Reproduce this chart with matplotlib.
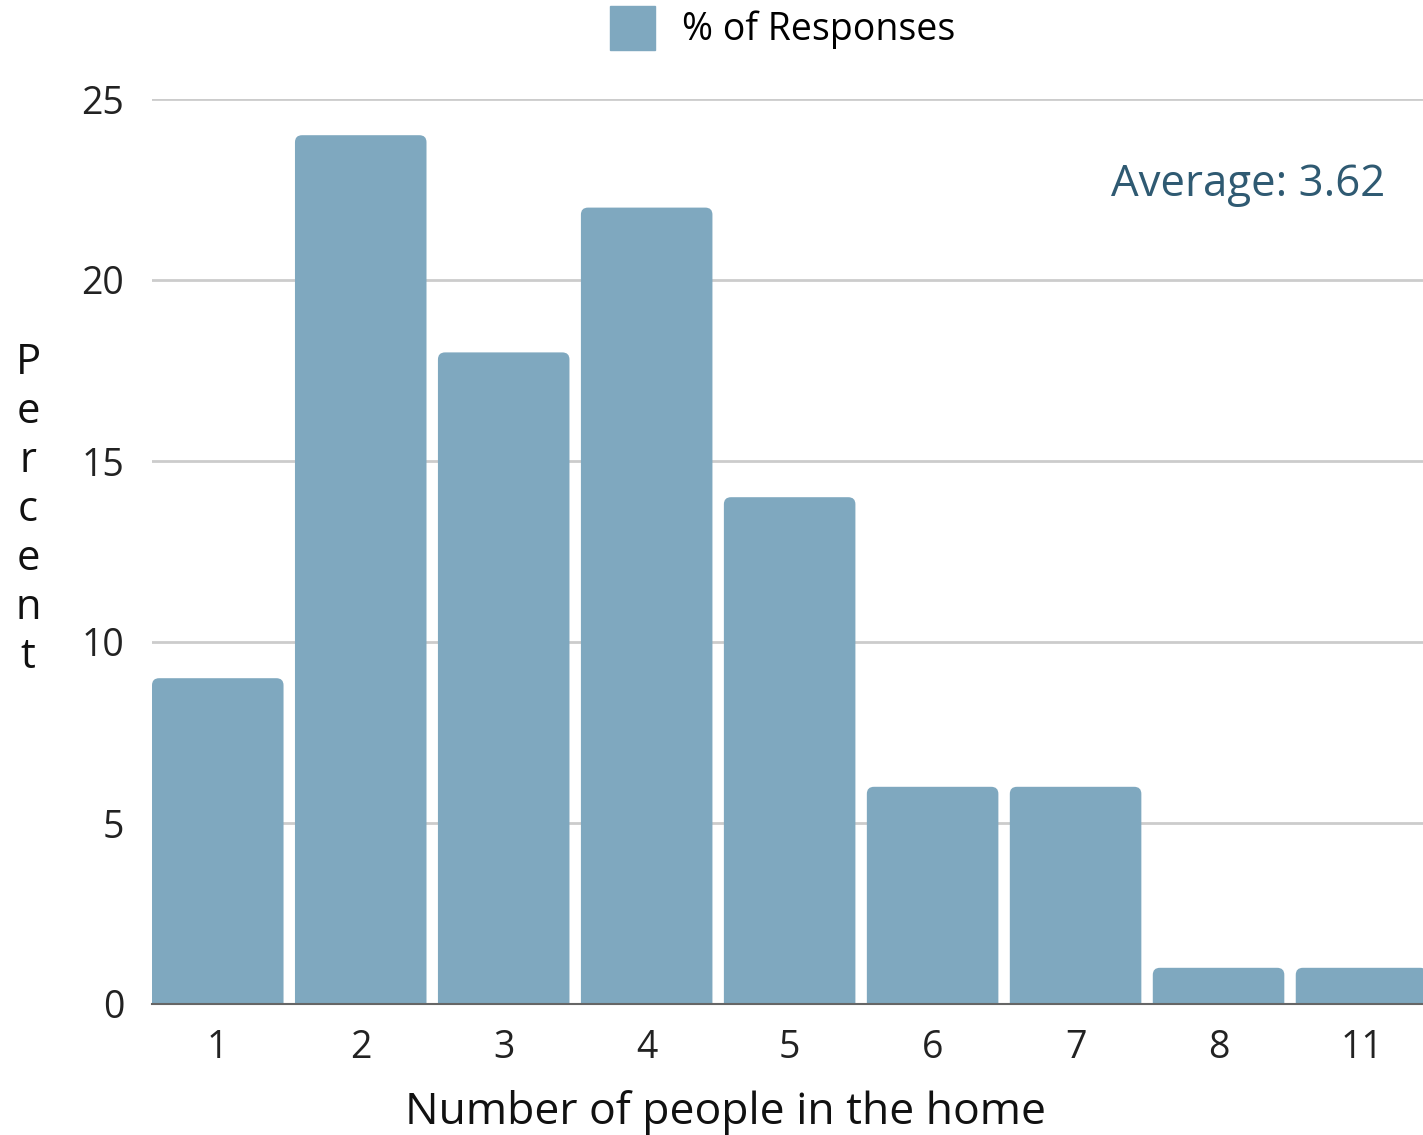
import matplotlib.pyplot as plt
from matplotlib.patches import Patch, FancyBboxPatch

# data
categories = ["1", "2", "3", "4", "5", "6", "7", "8", "11"]
percent = [9, 24, 18, 22, 14, 6, 6, 1, 1]
average_label = "Average: 3.62"

BAR = "#7fa8bf"
plt.rcParams["font.family"] = ["Open Sans", "DejaVu Sans"]

fig = plt.figure(figsize=(14.23, 11.35), dpi=100)
ax = fig.add_axes([152 / 1423, 1 - 1004 / 1135, (1423 - 152) / 1423, (1004 - 99) / 1135])

x = list(range(len(categories)))
bars = ax.bar(x, percent, width=0.92, color=BAR, zorder=3, label="% of Responses")

# swap plain rectangles for ones with slightly rounded corners
# (start them a bit below zero so the bottom corners get clipped off)
for b in bars:
    b.set_visible(False)
    rb = FancyBboxPatch((b.get_x(), -0.4), b.get_width(), b.get_height() + 0.4,
                        boxstyle="round,pad=0,rounding_size=0.05",
                        mutation_aspect=3.9, facecolor=BAR, edgecolor="none", zorder=3)
    ax.add_patch(rb)

ax.set_xlim(-0.46, 8.43)
ax.set_ylim(0, 25)
ax.set_yticks([0, 5, 10, 15, 20, 25])
ax.set_xticks(x)
ax.set_xticklabels(categories)
ax.tick_params(axis="both", length=0, labelsize=27, colors="#222222")
ax.tick_params(axis="y", pad=20)
ax.tick_params(axis="x", pad=18)
ax.grid(axis="y", color="#cccccc", linewidth=2, zorder=0)

for s in ["top", "right", "left"]:
    ax.spines[s].set_visible(False)
ax.spines["bottom"].set_color("#666666")
ax.spines["bottom"].set_linewidth(1.5)
ax.spines["bottom"].set_zorder(4)

ax.set_xlabel("Number of people in the home", fontsize=32, color="#111111", labelpad=18)
ax.xaxis.set_label_coords(0.451, -0.095)
fig.text(28 / 1423, 1 - 510 / 1135, "P\ne\nr\nc\ne\nn\nt", fontsize=30,
         ha="center", va="center", linespacing=1.22, color="#111111")

ax.text(0.97, 0.905, average_label, transform=ax.transAxes, fontsize=31.5,
        ha="right", va="center", color="#2f5a72")

leg_handle = Patch(facecolor=BAR, edgecolor=BAR)
fig.legend([leg_handle], ["% of Responses"], loc="center", bbox_to_anchor=(0.55, 1 - 28 / 1135),
           frameon=False, fontsize=27, handlelength=1.2, handleheight=1.4, handletextpad=0.7)

fig.savefig("out.png", dpi=100)
